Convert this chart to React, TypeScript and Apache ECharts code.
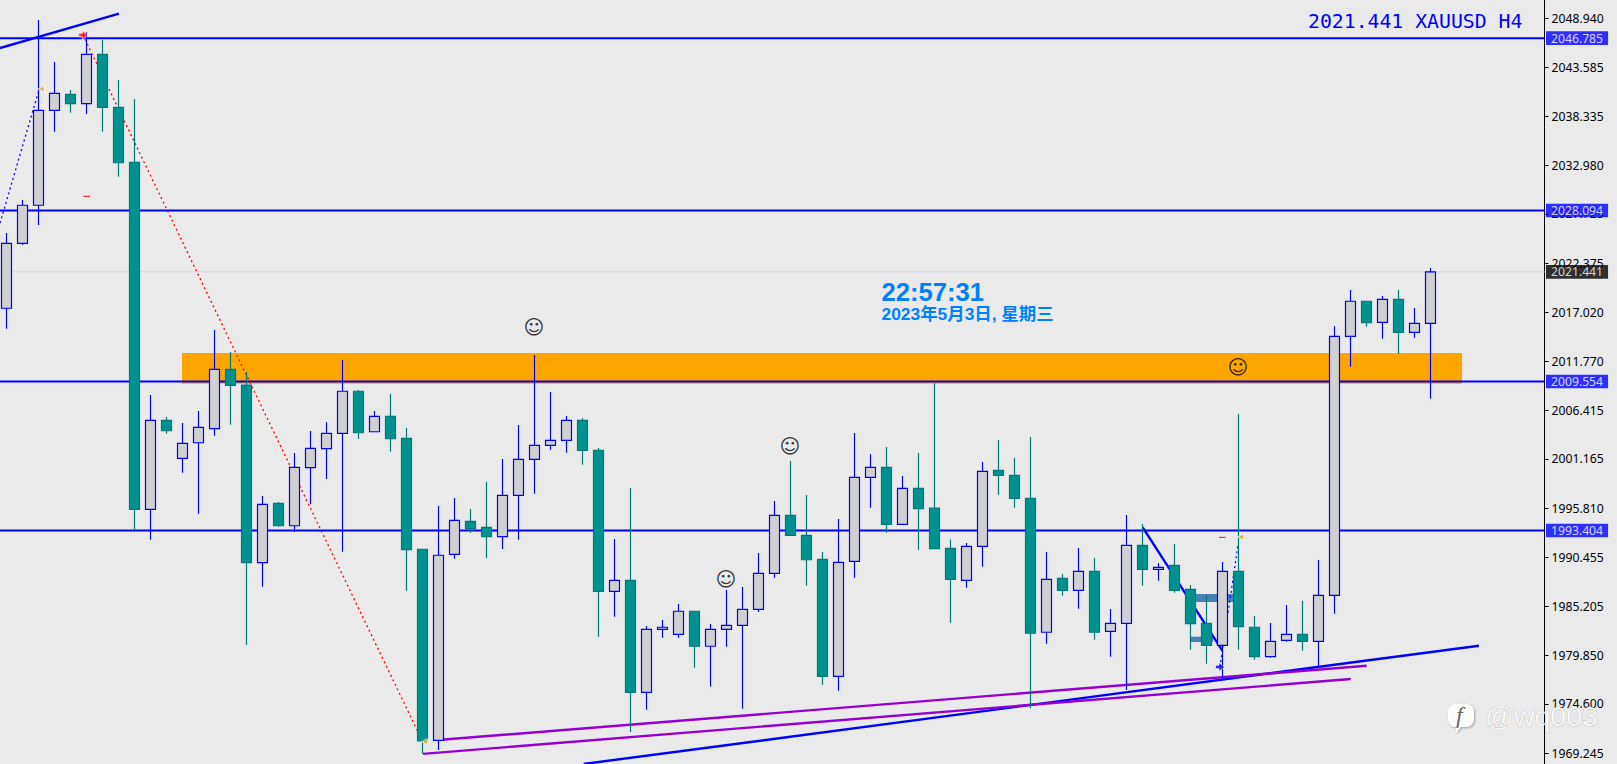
import React, { useEffect, useRef } from "react";
import * as echarts from "echarts";

const opens = [2017.50,2024.54,2028.67,2038.96,2040.69,2039.68,2045.03,2039.29,2033.32,1995.70,
2005.35,2001.23,2002.92,2004.44,2010.87,2009.17,1989.91,1996.35,1993.92,2000.21,
2002.27,2003.94,2008.50,2004.11,2005.78,2003.40,1991.37,1970.65,1990.82,1994.40,
1993.75,1992.73,1997.22,2001.12,2002.64,2003.18,2005.35,2002.10,1986.81,1988.00,
1975.86,1982.69,1982.15,1984.65,1980.85,1982.69,1983.12,1984.86,1988.76,1995.05,
1992.88,1990.28,1977.59,1990.06,1999.17,2000.25,1994.07,1997.98,1995.82,1991.47,
1988.00,1991.69,1999.93,1999.39,1996.89,1982.37,1988.22,1986.92,1988.97,1982.47,
1983.34,1991.80,1989.19,1989.63,1987.03,1983.34,1980.95,1988.97,1982.91,1979.72,
1981.50,1982.15,1981.39,1986.37,2014.46,2018.26,2015.97,2018.47,2014.89,2015.87];
const closes = [2024.54,2028.67,2038.96,2040.81,2039.68,2045.03,2039.29,2033.28,1995.70,2005.35,
2004.22,2002.86,2004.59,2010.87,2009.14,1989.91,1996.24,1993.92,2000.25,2002.31,
2003.94,2008.50,2004.00,2005.78,2003.35,1991.32,1970.60,1990.72,1994.51,1993.60,
1992.73,1997.22,2001.12,2002.64,2003.18,2005.35,2002.10,1986.81,1988.00,1975.86,
1982.69,1982.91,1984.65,1980.85,1982.69,1983.12,1984.86,1988.76,1995.05,1992.88,
1990.23,1977.59,1989.95,1999.17,2000.25,1994.07,1997.98,1995.77,1991.44,1988.10,
1991.69,1999.82,1999.39,1996.89,1982.26,1988.11,1986.92,1988.97,1982.37,1983.34,
1991.80,1989.19,1989.41,1986.92,1983.30,1980.95,1988.97,1982.97,1979.72,1981.39,
1982.15,1981.39,1986.37,2014.46,2018.26,2015.93,2018.47,2014.89,2015.87,2021.441];
const lows = [2015.29,2024.36,2026.53,2036.64,2038.70,2038.56,2036.64,2031.76,1993.53,1992.41,
2003.90,1999.67,1995.22,2003.68,2004.87,1980.99,1987.31,1993.82,1993.24,1996.24,
1998.99,1991.10,2003.32,2004.08,2001.94,1986.88,1969.19,1969.60,1990.34,1993.16,
1990.42,1991.40,1992.41,1997.39,2002.16,2001.84,2000.53,1981.89,1984.06,1971.55,
1973.97,1981.78,1981.78,1978.53,1976.48,1980.81,1974.08,1984.57,1988.28,1992.88,
1987.42,1976.68,1976.03,1988.28,1995.87,1993.16,1994.07,1991.32,1991.44,1983.41,
1987.20,1989.48,1997.28,1995.87,1974.12,1981.13,1986.34,1984.93,1981.56,1979.71,
1976.10,1987.42,1987.96,1986.66,1980.48,1978.96,1977.19,1980.48,1979.39,1979.61,
1981.34,1980.37,1978.53,1984.38,2011.16,2015.50,2014.20,2012.57,2014.31,2007.69];
const highs = [2025.66,2029.24,2048.75,2044.20,2041.16,2047.42,2046.59,2042.25,2040.19,2008.09,
2005.71,2005.06,2006.36,2015.14,2012.76,2010.59,1997.14,1996.49,2001.80,2004.19,
2005.16,2011.89,2008.64,2006.36,2008.20,2004.52,1991.37,1996.06,1996.93,1995.73,
1998.66,2001.15,2004.84,2012.43,2008.42,2005.82,2005.57,2002.35,1992.48,1998.01,
1983.05,1983.70,1985.44,1984.65,1983.27,1986.95,1987.27,1990.96,1996.60,2000.94,
1997.25,1991.07,1994.65,2003.97,2001.70,2002.46,1999.31,2001.80,2009.36,1992.44,
1992.05,2000.83,2003.21,2001.26,2003.54,1991.07,1988.69,1991.50,1990.42,1984.89,
1995.08,1994.10,1989.88,1991.94,1987.49,1986.41,1989.99,2006.03,1984.13,1983.37,
1985.32,1985.76,1990.20,2015.57,2019.48,2018.26,2018.83,2019.48,2017.52,2021.86];

const slots = Array.from({ length: 97 }, (_, i) => String(i));
const tickLabels = [2048.94,2043.585,2038.335,2032.98,2027.725,2022.375,2017.02,2011.77,2006.415,2001.165,1995.81,1990.455,1985.205,1979.85,1974.6,1969.245];
const hLevels = [2046.785, 2028.094, 2009.554, 1993.404];
const lastPrice = 2021.441;

// [barStart, barEnd, priceStart, priceEnd]
const blueTrends = [[-0.396,7.04,2045.72,2049.44],[71.02,76.0,1993.75,1980.37],[36.08,92.04,1968.085,1980.91]];
const purpleTrends = [[26.98,85.02,1970.68,1978.74],[26.04,84.02,1969.18,1977.30]];
const blueDotted = [[-0.396,2.04,2026.74,2041.16],[75.85,76.98,1978.60,1991.83]];
const redDotted = [[4.79,26.0,2047.13,1970.58]];
const redDashes = [[4.81,5.23,2029.64,2029.64],[75.8,76.2,1992.66,1992.66]];
// [barStart, barEnd, priceTop, priceBottom]
const zones = [[10.98,90.98,2012.65,2009.32]];
const steelZones = [[74.34,76.67,1986.51,1985.65],[73.98,75.42,1981.89,1981.31]];
const smileys = [[32.98,2015.46],[44.98,1988.15],[48.98,2002.56],[76.98,2011.13]];
const orangeMarks = [[2.17,2041.27],[77.14,1992.7],[26.13,1970.5]];

const X_MIN = -0.396;
const X_MAX = 96.14;
const Y_MIN = 1968.085;
const Y_MAX = 2050.924;
const BLUE = "#0000FF";
const AXIS_FONT = "Noto Sans";
const ARROW = "path://M0 3H4V0L10 5L4 10V7H0Z";

const seg = (s: number[], color: string, width: number, type: any, z: number) => ({
  type: "line", xAxisIndex: 1, yAxisIndex: 1, z, silent: true, symbol: "none",
  data: [[s[0], s[2]], [s[1], s[3]]],
  lineStyle: { color, width, type, cap: "butt" },
});
const rects = (data: number[][], color: string, z: number) => ({
  type: "custom", xAxisIndex: 1, yAxisIndex: 1, z, silent: true, data,
  encode: { x: [0, 1], y: [2, 3] },
  renderItem: (_: any, api: any) => {
    const a = api.coord([api.value(0), api.value(2)]);
    const b = api.coord([api.value(1), api.value(3)]);
    return { type: "rect", shape: { x: a[0], y: a[1], width: b[0] - a[0], height: b[1] - a[1] }, style: { fill: color } };
  },
});
const tag = (price: number, bg: string) => ({
  type: "scatter", xAxisIndex: 1, yAxisIndex: 1, z: 6, silent: true, clip: false,
  symbolSize: 1, itemStyle: { color: "transparent" },
  data: [[X_MAX, price]],
  label: {
    show: true, position: "right", distance: 0.9, formatter: price.toFixed(3), color: "#FFFFFF",
    backgroundColor: bg, fontFamily: AXIS_FONT, fontSize: 12.2, lineHeight: 13.6, padding: [0, 5, 0, 5],
  },
});
const marks = (data: number[][], symbol: string, size: number, color: string, rotate = 0) => ({
  type: "scatter", xAxisIndex: 1, yAxisIndex: 1, z: 5, silent: true, data, symbol, symbolSize: size, symbolRotate: rotate,
  itemStyle: { color, borderColor: "#FFFFFF", borderWidth: 0.8 },
});

export default function App() {
  const ref = useRef<HTMLDivElement>(null);
  useEffect(() => {
    const bubble = echarts.graphic.extendPath(
      "M8 0H18A8 8 0 0 1 26 8V15A8 8 0 0 1 18 23H13L8 29V23A8 8 0 0 1 0 15V8A8 8 0 0 1 8 0Z", {});
    echarts.graphic.registerShape("wmBubble", bubble);
    const chart = echarts.init(ref.current!, null, { renderer: "svg" });
    chart.setOption({
      animation: false,
      backgroundColor: "#EAEAEA",
      grid: [
        { left: -1.67, width: 1552, top: 0, height: 764, containLabel: false, outerBoundsMode: "none" },
        { left: 0, width: 1544.6, top: 0, height: 764, containLabel: false, outerBoundsMode: "none" },
      ],
      xAxis: [
        { type: "category", gridIndex: 0, data: slots, show: false, boundaryGap: true },
        { type: "value", gridIndex: 1, min: X_MIN, max: X_MAX, show: false, splitLine: { show: false } },
      ],
      yAxis: [
        { type: "value", gridIndex: 0, min: Y_MIN, max: Y_MAX, show: false, scale: true, splitLine: { show: false } },
        {
          type: "value", gridIndex: 1, min: Y_MIN, max: Y_MAX, position: "right", scale: true,
          splitLine: { show: false },
          axisLine: { show: true, onZero: false, lineStyle: { color: "#000000", width: 1 } },
          axisTick: { show: true, length: 4, customValues: tickLabels, lineStyle: { color: "#000000", width: 1 } },
          axisLabel: {
            show: true, margin: 7, customValues: tickLabels, color: "#000000", fontFamily: AXIS_FONT, fontSize: 12.2,
            formatter: (v: number) => v.toFixed(3),
          },
        },
      ],
      series: [
        rects(zones, "#FFA500", 1),
        rects(steelZones, "#4682B4", 1),
        ...hLevels.map((p) => seg([X_MIN, X_MAX, p, p], BLUE, 2, "solid", 2)),
        seg([X_MIN, X_MAX, lastPrice, lastPrice], "#CDD5E0", 1, "solid", 2),
        ...blueTrends.map((s) => seg(s, BLUE, 2.4, "solid", 2)),
        ...purpleTrends.map((s) => seg(s, "#9400D3", 2.4, "solid", 2)),
        ...blueDotted.map((s) => seg(s, BLUE, 1.3, [2, 3], 2)),
        ...redDotted.map((s) => seg(s, "#FF0000", 1.3, [2, 3], 2)),
        ...redDashes.map((s) => seg(s, "#FF0000", 1, "solid", 2)),
        {
          type: "candlestick", xAxisIndex: 0, yAxisIndex: 0, z: 3, silent: true, barWidth: 10.5,
          data: opens.map((o, i) => [o, closes[i], lows[i], highs[i]]),
          itemStyle: { color: "#D0D0D0", color0: "#00928F", borderColor: BLUE, borderColor0: "#007A74", borderWidth: 1.2 },
        },
        marks([[4.81, 2047.13]], ARROW, 9, "#FF0000"),
        marks([[75.85, 1978.6]], ARROW, 9, BLUE),
        marks(orangeMarks, "triangle", 6, "#DAA520", 90),
        {
          type: "scatter", xAxisIndex: 1, yAxisIndex: 1, z: 5, silent: true, symbolSize: 1,
          itemStyle: { color: "transparent" }, data: smileys,
          label: { show: true, position: "inside", formatter: "☺", color: "#000000", fontFamily: "DejaVu Sans", fontSize: 20 },
        },
        tag(hLevels[0], BLUE),
        tag(hLevels[1], BLUE),
        tag(hLevels[2], BLUE),
        tag(hLevels[3], BLUE),
        tag(lastPrice, "#000000"),
      ],
      graphic: [
        { type: "text", x: 1308, y: 21.5, z: 10, style: { text: "2021.441 XAUUSD H4", fill: BLUE, font: "19.8px 'DejaVu Sans Mono'", textVerticalAlign: "middle" } },
        { type: "text", x: 881.5, y: 291.5, z: 10, style: { text: "22:57:31", fill: "#0080FF", font: "bold 25.6px 'Liberation Sans'", textVerticalAlign: "middle" } },
        { type: "text", x: 881.5, y: 313.5, z: 10, style: { text: "2023年5月3日, 星期三", fill: "#0080FF", font: "bold 17.4px 'Liberation Sans','Noto Sans CJK SC'", textVerticalAlign: "middle" } },
        { type: "wmBubble", x: 1448, y: 704, z: 11, style: { fill: "rgba(255,255,255,0.95)", shadowColor: "rgba(0,0,0,0.35)", shadowBlur: 2, shadowOffsetX: 1, shadowOffsetY: 1 } },
        { type: "text", x: 1456, y: 715, z: 12, style: { text: "f", fill: "#666666", font: "italic 24px 'Liberation Serif'", textVerticalAlign: "middle" } },
        { type: "text", x: 1485, y: 716, z: 11, style: { text: "@wq003", fill: "rgba(255,255,255,0.8)", stroke: "rgba(90,90,90,0.55)", lineWidth: 0.5, font: "28.5px 'Liberation Sans'", textVerticalAlign: "middle", shadowColor: "rgba(0,0,0,0.75)", shadowBlur: 1, shadowOffsetX: -1, shadowOffsetY: 1 } },
      ],
    });
    return () => chart.dispose();
  }, []);
  return <div ref={ref} style={{ position: "absolute", left: 0, top: 0, width: 1617, height: 764 }} />;
}
